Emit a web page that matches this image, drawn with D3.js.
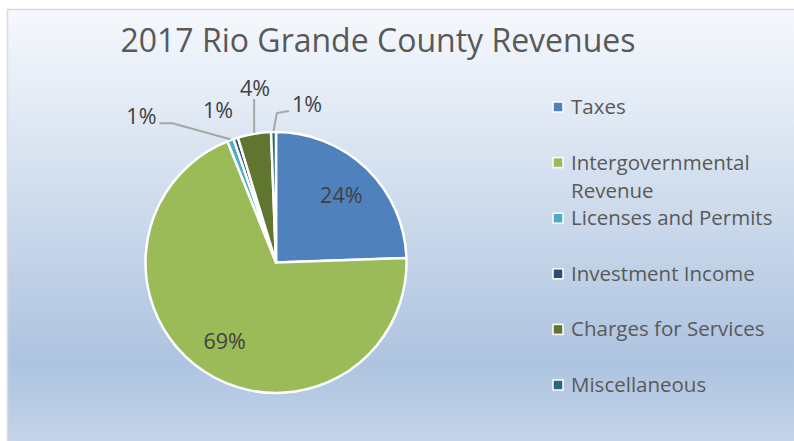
<!DOCTYPE html>
<html>
<head>
<meta charset="utf-8">
<script src="https://cdn.jsdelivr.net/npm/d3@7"></script>
<style>
  html, body { margin: 0; padding: 0; background: #ffffff; }
  svg { display: block; font-family: "Open Sans", sans-serif; }
</style>
</head>
<body>
<svg id="chart" width="794" height="441"></svg>
<script>
const TITLE = "2017 Rio Grande County Revenues";

const categories = [
  "Taxes",
  "Intergovernmental Revenue",
  "Licenses and Permits",
  "Investment Income",
  "Charges for Services",
  "Miscellaneous",
];
const values = [24.4, 69.3, 0.8, 0.55, 4.1, 0.6];
const colors = ["#4f81bd", "#9bbb59", "#4bacc6", "#2c4d75", "#5f7530", "#276a7c"];

// how each data label is placed: inside the slice, or outside with a nudge and leader side
const labelMode = ["inside", "inside", "outside", "outside", "outside", "outside"];
const labelNudge = [[0, 0], [0, 0], [-78, 6], [-8, 2], [6, -14], [34, 4]];
const leaderSide = [null, null, "right", null, "bottom", "left"];

const width = 794;
const height = 441;
const cx = 276;
const cy = 262.5;
const radius = 130.5;

const svg = d3.select("#chart");

const defs = svg.append("defs");
const grad = defs
  .append("linearGradient")
  .attr("id", "bg")
  .attr("x1", 0).attr("y1", 0)
  .attr("x2", 0).attr("y2", 1);
grad.append("stop").attr("offset", "0%").attr("stop-color", "#f6f9fd");
grad.append("stop").attr("offset", "80%").attr("stop-color", "#adc3df");
grad.append("stop").attr("offset", "100%").attr("stop-color", "#c6d6ea");

svg
  .append("rect")
  .attr("x", 7.5)
  .attr("y", 9.5)
  .attr("width", width)
  .attr("height", height)
  .attr("fill", "url(#bg)")
  .attr("stroke", "#d9d9d9")
  .attr("stroke-width", 1.5);

svg
  .append("text")
  .attr("x", 378)
  .attr("y", 52)
  .attr("text-anchor", "middle")
  .attr("fill", "#595959")
  .attr("font-size", 32)
  .text(TITLE);

const total = d3.sum(values);
const rows = categories.map((name, i) => ({ name, value: values[i], color: colors[i], index: i }));

const pie = d3.pie().sort(null).value((d) => d.value).startAngle(0).endAngle(2 * Math.PI);
const arcs = pie(rows);

const arc = d3.arc().innerRadius(0).outerRadius(radius);
const labelArc = d3.arc().innerRadius(radius * 0.72).outerRadius(radius * 0.72);
const outerArc = d3.arc().innerRadius(radius + 32).outerRadius(radius + 32);

const pieLayer = svg.append("g").attr("transform", `translate(${cx},${cy})`);

pieLayer
  .selectAll("path")
  .data(arcs)
  .join("path")
  .attr("d", arc)
  .attr("fill", (d) => d.data.color)
  .attr("stroke", "#ffffff")
  .attr("stroke-width", 2.5)
  .attr("stroke-linejoin", "round");

const labelLayer = pieLayer.append("g").attr("fill", "#404040").attr("font-size", 21.5);

function pointOnRim(d, r) {
  const a = (d.startAngle + d.endAngle) / 2;
  return [Math.sin(a) * r, -Math.cos(a) * r];
}

for (const d of arcs) {
  const i = d.data.index;
  const pct = `${Math.round((d.value / total) * 100)}%`;
  let x;
  let y;

  if (labelMode[i] === "inside") {
    [x, y] = labelArc.centroid(d);
  } else {
    [x, y] = outerArc.centroid(d);
    x += labelNudge[i][0];
    y += labelNudge[i][1];
  }

  const label = labelLayer
    .append("text")
    .attr("x", x)
    .attr("y", y)
    .attr("text-anchor", "middle")
    .attr("dy", "0.36em")
    .text(pct);

  const side = leaderSide[i];
  if (!side) continue;

  const box = label.node().getBBox();
  const start = pointOnRim(d, radius + 1);
  let end;
  let elbow;

  if (side === "bottom") {
    end = [start[0], box.y + box.height - 3];
    elbow = end;
  } else if (side === "left") {
    end = [box.x - 3, y + 7];
    elbow = [end[0] - 12, end[1] + 2];
  } else {
    end = [box.x + box.width + 3, y + 7];
    elbow = [end[0] + 13, end[1]];
  }

  labelLayer
    .append("polyline")
    .attr("points", [start, elbow, end].map((p) => p.join(",")).join(" "))
    .attr("fill", "none")
    .attr("stroke", "#a6a6a6")
    .attr("stroke-width", 2);
}

// legend
const legendX = 558;
const legendTop = 114;
const legendStep = 55.6;
const legendMaxWidth = 218;

const legend = svg.append("g").attr("font-size", 20.5).attr("fill", "#595959");

rows.forEach((row, i) => {
  const baseline = legendTop + i * legendStep;

  legend
    .append("rect")
    .attr("x", legendX - 5)
    .attr("y", baseline - 12)
    .attr("width", 10)
    .attr("height", 10)
    .attr("fill", row.color)
    .attr("stroke", "#ffffff")
    .attr("stroke-width", 1.5);

  const text = legend.append("text").attr("x", legendX + 13).attr("y", baseline);
  const words = row.name.split(" ");
  let line = [];
  let tspan = text.append("tspan").attr("x", legendX + 13).attr("y", baseline);

  for (const word of words) {
    line.push(word);
    tspan.text(line.join(" "));
    if (tspan.node().getComputedTextLength() > legendMaxWidth && line.length > 1) {
      line.pop();
      tspan.text(line.join(" "));
      line = [word];
      tspan = text
        .append("tspan")
        .attr("x", legendX + 13)
        .attr("dy", 28)
        .text(word);
    }
  }
});
</script>
</body>
</html>
